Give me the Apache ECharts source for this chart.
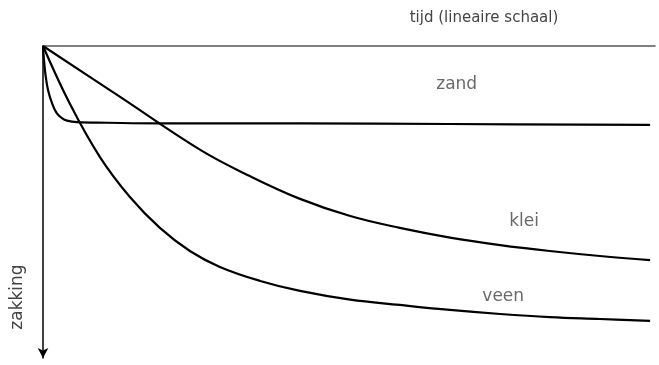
<!DOCTYPE html>
<html>
<head>
<meta charset="utf-8">
<script src="https://cdn.jsdelivr.net/npm/echarts@6/dist/echarts.min.js"></script>
<style>
  html, body { margin: 0; padding: 0; background: #fff; }
  #chart { width: 659px; height: 365px; }
</style>
</head>
<body>
<div id="chart"></div>
<script>
// tijd (0..100) en zakking (0..100), schematisch
const zand = [[0, 0], [0.16, 4.5], [0.41, 9.3], [0.82, 14.1], [1.47, 18.3], [2.24, 21.5], [3.1, 23.1], [3.92, 23.9], [5.56, 24.4], [10.5, 24.6], [18.8, 24.8], [42, 24.8], [66.5, 25.0], [99.2, 25.3]]
const klei = [[0, 0], [12.6, 16.3], [25.7, 33.3], [33.8, 41.7], [42.0, 49.0], [50.2, 54.5], [58.3, 58.3], [66.5, 61.4], [74.7, 63.8], [82.8, 65.7], [91.0, 67.3], [99.2, 68.6]]
const veen = [[0, 0], [4.41, 18.6], [9.31, 35.6], [14.2, 48.4], [19.1, 58.3], [24.0, 65.7], [28.9, 70.8], [35.5, 75.3], [42.0, 78.5], [50.2, 81.3], [58.3, 83.0], [66.5, 84.6], [74.7, 85.9], [82.8, 86.9], [91.0, 87.5], [99.2, 88.1]]
// label positions in data coordinates
const labels = [
  { name: 'zand', value: [67.6, 12.5] },
  { name: 'klei', value: [78.6, 56.4] },
  { name: 'veen', value: [75.2, 80.4] }
]
const xName = 'tijd (lineaire schaal)'
const yName = 'zakking'

const font = 'DejaVu Sans'
const textColor = '#444'

const chart = echarts.init(document.getElementById('chart'))

function curve(name, data) {
  return {
    name,
    type: 'line',
    data,
    showSymbol: false,
    smooth: 0.4,
    lineStyle: { color: '#000', width: 2.2 },
    silent: true
  }
}

chart.setOption({
  animation: false,
  grid: { left: 43, top: 46, right: 4, bottom: 7 },
  xAxis: {
    type: 'value',
    position: 'top',
    min: 0,
    max: 100,
    axisLine: { show: true, lineStyle: { color: '#555', width: 1.5 } },
    axisTick: { show: false },
    axisLabel: { show: false },
    splitLine: { show: false }
  },
  yAxis: {
    type: 'value',
    inverse: true,
    min: 0,
    max: 100,
    axisLine: {
      show: true,
      symbol: ['arrow', 'none'],
      symbolSize: [8, 10],
      lineStyle: { color: '#000', width: 1.5 }
    },
    axisTick: { show: false },
    axisLabel: { show: false },
    splitLine: { show: false }
  },
  series: [
    curve('zand', zand),
    curve('klei', klei),
    curve('veen', veen),
    {
      type: 'scatter',
      data: labels,
      symbolSize: 0,
      silent: true,
      label: {
        show: true,
        position: 'inside',
        formatter: '{b}',
        fontFamily: font,
        fontSize: 17,
        color: textColor
      }
    }
  ],
  graphic: [
    {
      type: 'text',
      x: 484,
      y: 18,
      style: {
        text: xName,
        fontFamily: font,
        fontSize: 15,
        fill: textColor,
        align: 'center',
        verticalAlign: 'middle'
      }
    },
    {
      type: 'text',
      x: 18,
      y: 297,
      rotation: Math.PI / 2,
      style: {
        text: yName,
        fontFamily: font,
        fontSize: 17,
        fill: textColor,
        align: 'center',
        verticalAlign: 'middle'
      }
    }
  ]
})
</script>
</body>
</html>
